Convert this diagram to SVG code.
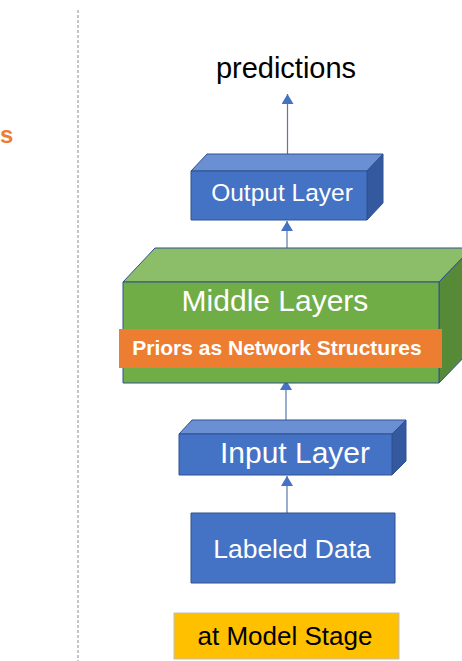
<svg xmlns="http://www.w3.org/2000/svg" width="462" height="661" viewBox="0 0 462 661">
  <defs>
    <marker id="arrow" viewBox="0 0 10 12" refX="10" refY="6" markerWidth="10" markerHeight="12" markerUnits="userSpaceOnUse" orient="auto">
      <path d="M0,0 L10,6 L0,12 Z" fill="#4472C4"/>
    </marker>
    <style>
      .edge { stroke: #5A76B0; stroke-width: 1.2; fill: none; }
      .box { stroke: #2F528F; stroke-width: 1; stroke-linejoin: round; }
      .blue-front { fill: #4472C4; }
      .blue-top { fill: #6A8FD2; }
      .blue-side { fill: #34599E; }
      .green-front { fill: #70AD47; }
      .green-top { fill: #8CBE6A; }
      .green-side { fill: #578A36; }
      .label { font-family: "Liberation Sans", Arial, sans-serif; fill: #FFFFFF; text-anchor: middle; }
      .dark { font-family: "Liberation Sans", Arial, sans-serif; fill: #000000; text-anchor: middle; }
    </style>
  </defs>

  <rect width="462" height="661" fill="#FFFFFF"/>

  <!-- panel divider -->
  <line x1="78" y1="10" x2="78" y2="661" stroke="#8C8C8C" stroke-width="1" stroke-dasharray="3 2"/>

  <!-- tail of the left panel heading -->
  <text x="0" y="143" font-family="Liberation Sans, Arial, sans-serif" font-weight="bold" font-size="24" fill="#ED7D31">s</text>

  <!-- connectors -->
  <g id="connectors">
    <line class="edge" x1="287.5" y1="155" x2="287.5" y2="94" marker-end="url(#arrow)"/>
    <line class="edge" x1="287" y1="264" x2="287" y2="221" marker-end="url(#arrow)"/>
    <line class="edge" x1="286" y1="421" x2="286" y2="380" marker-end="url(#arrow)"/>
    <line class="edge" x1="287" y1="513" x2="287" y2="476" marker-end="url(#arrow)"/>
  </g>

  <g id="predictions">
    <text class="dark" x="286" y="78" font-size="29">predictions</text>
  </g>

  <g id="output-layer">
    <polygon class="box blue-top" points="191,171 207,154 383,154 367,171"/>
    <polygon class="box blue-side" points="367,171 383,154 383,203 367,220"/>
    <rect class="box blue-front" x="191" y="171" width="176" height="49"/>
    <text class="label" x="282" y="201" font-size="24.5">Output Layer</text>
  </g>

  <g id="middle-layers">
    <polygon class="box green-top" points="123,282 155,248 472,248 439,282"/>
    <polygon class="box green-side" points="439,282 472,248 472,349 439,383"/>
    <rect class="box green-front" x="123" y="282" width="316" height="101"/>
    <text class="label" x="275" y="311" font-size="30">Middle Layers</text>
    <g id="priors">
      <rect x="119" y="329" width="323" height="39" fill="#ED7D31"/>
      <text class="label" x="277" y="355" font-size="21" font-weight="bold">Priors as Network Structures</text>
    </g>
  </g>

  <g id="input-layer">
    <polygon class="box blue-top" points="179,434 192,420 406,420 392,434"/>
    <polygon class="box blue-side" points="392,434 406,420 406,461 392,475"/>
    <rect class="box blue-front" x="179" y="434" width="213" height="41"/>
    <text class="label" x="295" y="463" font-size="30">Input Layer</text>
  </g>

  <g id="labeled-data">
    <rect class="box blue-front" x="191" y="513" width="204" height="70"/>
    <text class="label" x="292" y="558" font-size="26.5">Labeled Data</text>
  </g>

  <g id="model-stage">
    <rect x="174" y="613" width="225" height="46" fill="#FFC000" stroke="#BFBFBF" stroke-width="1"/>
    <text class="dark" x="285" y="645" font-size="26">at Model Stage</text>
  </g>
</svg>
